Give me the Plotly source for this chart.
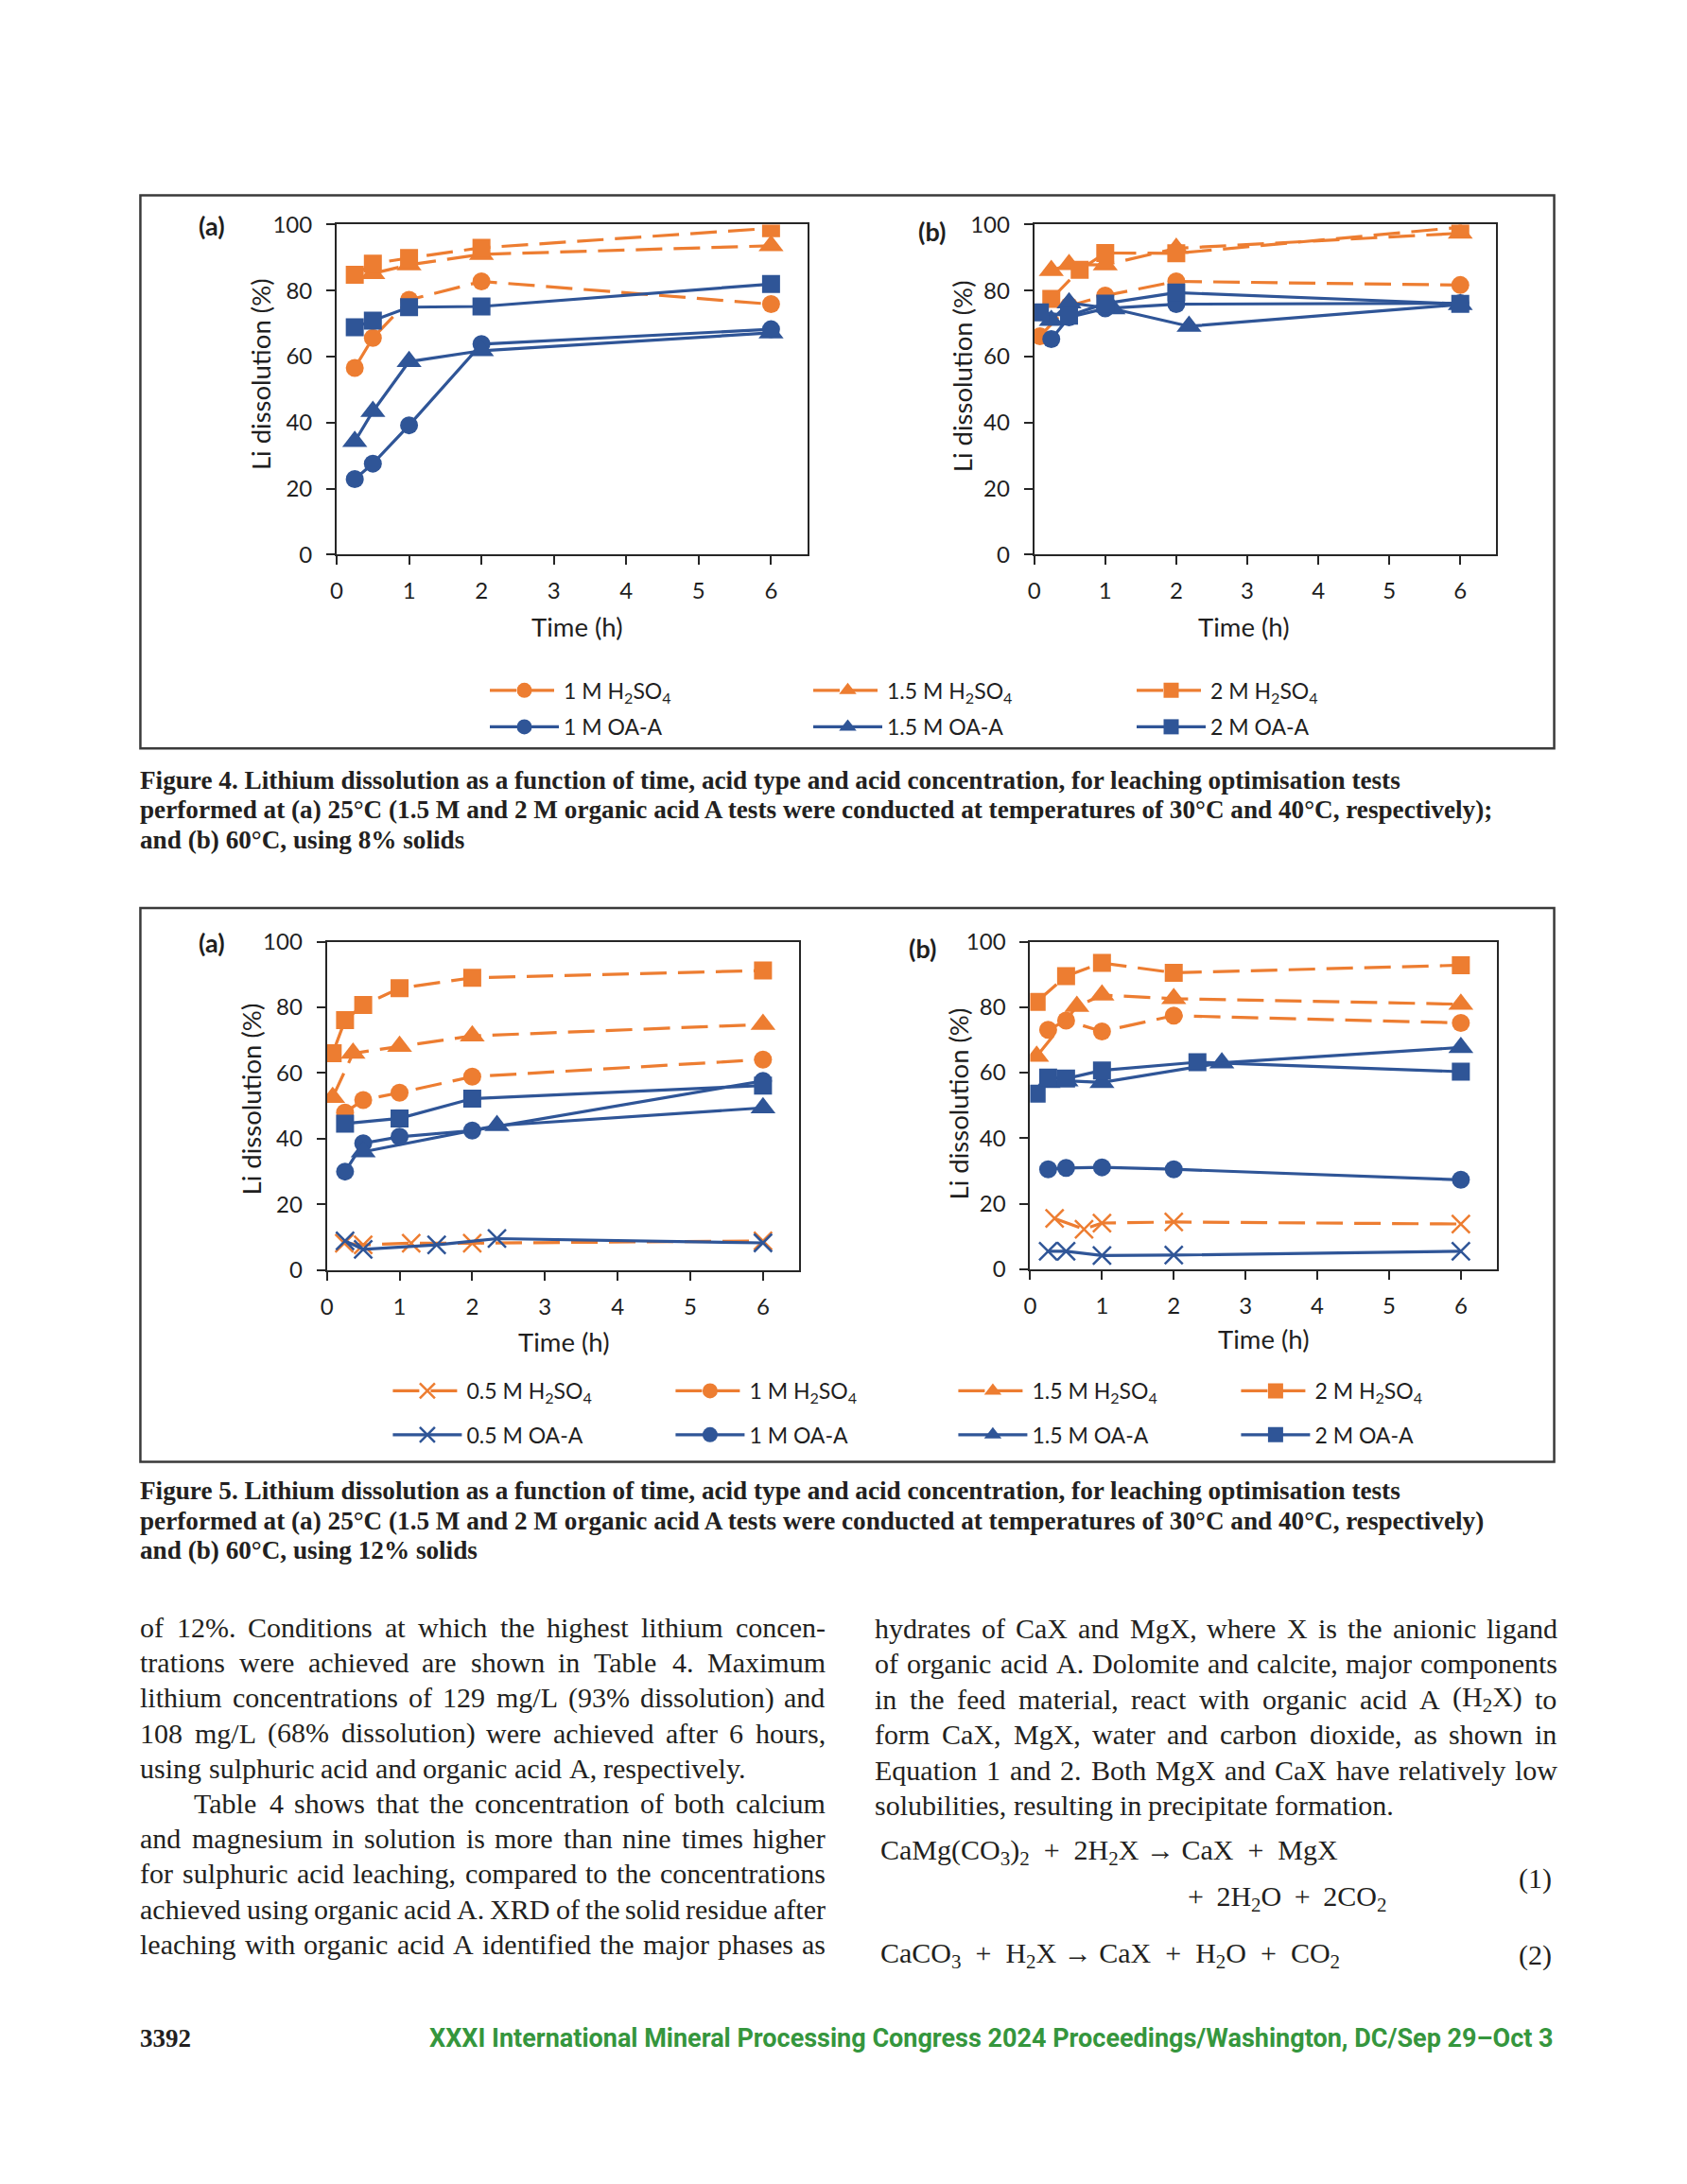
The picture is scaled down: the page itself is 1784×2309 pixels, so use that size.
import re
import plotly.graph_objects as go

W, H = 1784, 2309

# ---------------- data ----------------
# Figure 4 (a): 25 C, 8 % solids
f4a_h1_t = [0.25, 0.5, 1, 2, 6]
f4a_h1_y = [56.6, 65.7, 77.2, 82.8, 75.9]
f4a_h15_t = [0.5, 1, 2, 6]
f4a_h15_y = [85.2, 87.8, 91.0, 93.6]
f4a_h2_t = [0.25, 0.5, 1, 2, 6]
f4a_h2_y = [84.8, 88.2, 89.9, 93.0, 98.9]
f4a_o1_t = [0.25, 0.5, 1, 2, 6]
f4a_o1_y = [22.9, 27.6, 39.2, 63.8, 68.3]
f4a_o15_t = [0.25, 0.5, 1, 2, 6]
f4a_o15_y = [34.3, 43.4, 58.5, 61.8, 67.2]
f4a_o2_t = [0.25, 0.5, 1, 2, 6]
f4a_o2_y = [68.9, 70.9, 75.0, 75.2, 82.0]

# Figure 4 (b): 60 C, 8 % solids
f4b_h1_t = [0.08, 0.49, 1, 2, 6]
f4b_h1_y = [66.2, 75.4, 78.5, 82.8, 81.7]
f4b_h15_t = [0.24, 0.49, 1, 2, 6]
f4b_h15_y = [86.1, 87.9, 87.8, 92.8, 97.4]
f4b_h2_t = [0.24, 0.64, 1, 2, 6]
f4b_h2_y = [77.5, 86.3, 91.4, 91.3, 99.2]
f4b_o1_t = [0.24, 0.49, 1, 2, 6]
f4b_o1_y = [65.3, 71.9, 74.6, 75.9, 76.2]
f4b_o15_t = [0.24, 0.49, 1.11, 2.18, 6]
f4b_o15_y = [71.0, 76.3, 74.5, 69.2, 75.8]
f4b_o2_t = [0.08, 0.49, 1, 2, 6]
f4b_o2_y = [73.4, 72.4, 76.1, 79.4, 76.0]

# Figure 5 (a): 25 C, 12 % solids
f5a_h05_t = [0.24, 0.5, 1.16, 2, 6]
f5a_h05_y = [8.2, 7.7, 8.2, 8.2, 8.9]
f5a_h1_t = [0.25, 0.5, 1, 2, 6]
f5a_h1_y = [48.0, 51.8, 54.0, 58.9, 64.1]
f5a_h15_t = [0.08, 0.36, 1, 2, 6]
f5a_h15_y = [52.6, 66.0, 68.1, 71.3, 74.8]
f5a_h2_t = [0.08, 0.25, 0.5, 1, 2, 6]
f5a_h2_y = [66.0, 76.1, 80.7, 85.8, 89.0, 91.2]
f5a_o05_t = [0.25, 0.5, 1.51, 2.34, 6]
f5a_o05_y = [8.9, 6.3, 7.7, 9.6, 8.3]
f5a_o1_t = [0.25, 0.5, 1, 2, 6]
f5a_o1_y = [30.0, 38.6, 40.6, 42.5, 57.6]
f5a_o15_t = [0.5, 2.34, 6]
f5a_o15_y = [36.0, 44.0, 49.4]
f5a_o2_t = [0.25, 1, 2, 6]
f5a_o2_y = [44.6, 46.2, 52.2, 56.2]

# Figure 5 (b): 60 C, 12 % solids
f5b_h05_t = [0.34, 0.75, 1, 2, 6]
f5b_h05_y = [15.5, 12.2, 14.1, 14.4, 13.8]
f5b_h1_t = [0.25, 0.5, 1, 2, 6]
f5b_h1_y = [73.1, 75.9, 72.6, 77.4, 75.2]
f5b_h15_t = [0.09, 0.65, 1, 2, 6]
f5b_h15_y = [65.0, 80.2, 83.7, 82.6, 80.9]
f5b_h2_t = [0.09, 0.5, 1, 2, 6]
f5b_h2_y = [81.6, 89.5, 93.5, 90.5, 92.8]
f5b_o05_t = [0.25, 0.5, 1, 2, 6]
f5b_o05_y = [5.5, 5.5, 4.2, 4.3, 5.5]
f5b_o1_t = [0.25, 0.5, 1, 2, 6]
f5b_o1_y = [30.5, 30.9, 31.1, 30.5, 27.3]
f5b_o15_t = [0.25, 0.5, 1, 2.67, 6]
f5b_o15_y = [57.0, 57.5, 57.0, 63.0, 67.7]
f5b_o2_t = [0.09, 0.25, 0.5, 1, 2.33, 6]
f5b_o2_y = [53.6, 58.5, 58.2, 60.7, 63.2, 60.3]

x_ticks = [0, 1, 2, 3, 4, 5, 6]
y_ticks = [0, 20, 40, 60, 80, 100]

caption4 = [
    "Figure 4. Lithium dissolution as a function of time, acid type and acid concentration, for leaching optimisation tests",
    "performed at (a) 25°C (1.5 M and 2 M organic acid A tests were conducted at temperatures of 30°C and 40°C, respectively);",
    "and (b) 60°C, using 8% solids",
]
caption5 = [
    "Figure 5. Lithium dissolution as a function of time, acid type and acid concentration, for leaching optimisation tests",
    "performed at (a) 25°C (1.5 M and 2 M organic acid A tests were conducted at temperatures of 30°C and 40°C, respectively)",
    "and (b) 60°C, using 12% solids",
]
body_left = [
    ("of 12%. Conditions at which the highest lithium concen-", True, 0),
    ("trations were achieved are shown in Table 4. Maximum", True, 0),
    ("lithium concentrations of 129 mg/L (93% dissolution) and", True, 0),
    ("108 mg/L (68% dissolution) were achieved after 6 hours,", True, 0),
    ("using sulphuric acid and organic acid A, respectively.", False, 0),
    ("Table 4 shows that the concentration of both calcium", True, 57),
    ("and magnesium in solution is more than nine times higher", True, 0),
    ("for sulphuric acid leaching, compared to the concentrations", True, 0),
    ("achieved using organic acid A. XRD of the solid residue after", True, 0),
    ("leaching with organic acid A identified the major phases as", True, 0),
]
body_right = [
    ("hydrates of CaX and MgX, where X is the anionic ligand", True, 0),
    ("of organic acid A. Dolomite and calcite, major components", True, 0),
    ("in the feed material, react with organic acid A (H<sub>2</sub>X) to", True, 0),
    ("form CaX, MgX, water and carbon dioxide, as shown in", True, 0),
    ("Equation 1 and 2. Both MgX and CaX have relatively low", True, 0),
    ("solubilities, resulting in precipitate formation.", False, 0),
]
SP = "\u00a0\u00a0"
eq1_a = "CaMg(CO<sub>3</sub>)<sub>2</sub>" + SP + "+" + SP + "2H<sub>2</sub>X\u00a0→\u00a0CaX" + SP + "+" + SP + "MgX"
eq1_b = "+\u00a0\u2009" + "2H<sub>2</sub>O" + "\u00a0\u2009+\u00a0\u2009" + "2CO<sub>2</sub>"
eq2 = ("CaCO<sub>3</sub>" + SP + "+" + SP + "H<sub>2</sub>X\u00a0→\u00a0CaX" + SP + "+" + SP +
       "H<sub>2</sub>O" + SP + "+" + SP + "CO<sub>2</sub>")
footer_page = "3392"
footer_text = "XXXI International Mineral Processing Congress 2024 Proceedings/Washington, DC/Sep 29–Oct 3"

# ---------------- style ----------------
ORANGE = "#ED7D31"
BLUE = "#2F5597"
AX = "#262626"
TXT = "#1f1f1f"
BODY = "#231f20"
SANS = "Lato, 'Open Sans', sans-serif"
SERIF = "'Liberation Serif', 'Times New Roman', serif"
GREEN = "#35963d"

SYM = {"0.5": "x-thin", "1": "circle", "1.5": "triangle-up", "2": "square"}
MSIZE = {"0.5": 19, "1": 19, "1.5": 23, "2": 19}


def px(x):
    return x / W


def py(y):
    return 1 - y / H


fig = go.Figure()

# panels: (axis id, x-domain px, y-domain px)
panels = {
    "4a": ("", (350.4, 850.0), (224.3, 577.7)),
    "4b": ("2", (1091.0, 1581.0), (224.3, 577.7)),
    "5a": ("3", (340.0, 841.6), (992.0, 1343.7)),
    "5b": ("4", (1086.7, 1582.0), (992.0, 1342.7)),
}


def add_series(panel, t, y, conc, acid, legend=None):
    aid = panels[panel][0]
    color = ORANGE if acid == "H" else BLUE
    if acid == "H":
        name = conc + " M H<sub>2</sub>SO<sub>4</sub>"
    else:
        name = conc + " M OA-A"
    marker = dict(symbol=SYM[conc], size=MSIZE[conc], color=color,
                  line=dict(width=2.5 if conc == "0.5" else 0, color=color))
    line = dict(color=color, width=3.2, dash="28px,12px" if acid == "H" else "solid")
    fig.add_trace(go.Scatter(
        x=t, y=y, mode="lines+markers", name=name, marker=marker, line=line,
        xaxis="x" + aid, yaxis="y" + aid,
        showlegend=legend is not None, legend=legend if legend else "legend",
        hoverinfo="skip"))


# Figure 4
add_series("4a", f4a_h1_t, f4a_h1_y, "1", "H", "legend")
add_series("4a", f4a_h15_t, f4a_h15_y, "1.5", "H", "legend")
add_series("4a", f4a_h2_t, f4a_h2_y, "2", "H", "legend")
add_series("4a", f4a_o1_t, f4a_o1_y, "1", "O", "legend2")
add_series("4a", f4a_o15_t, f4a_o15_y, "1.5", "O", "legend2")
add_series("4a", f4a_o2_t, f4a_o2_y, "2", "O", "legend2")
add_series("4b", f4b_h1_t, f4b_h1_y, "1", "H")
add_series("4b", f4b_h15_t, f4b_h15_y, "1.5", "H")
add_series("4b", f4b_h2_t, f4b_h2_y, "2", "H")
add_series("4b", f4b_o1_t, f4b_o1_y, "1", "O")
add_series("4b", f4b_o15_t, f4b_o15_y, "1.5", "O")
add_series("4b", f4b_o2_t, f4b_o2_y, "2", "O")
# Figure 5
add_series("5a", f5a_h05_t, f5a_h05_y, "0.5", "H", "legend3")
add_series("5a", f5a_h1_t, f5a_h1_y, "1", "H", "legend3")
add_series("5a", f5a_h15_t, f5a_h15_y, "1.5", "H", "legend3")
add_series("5a", f5a_h2_t, f5a_h2_y, "2", "H", "legend3")
add_series("5a", f5a_o05_t, f5a_o05_y, "0.5", "O", "legend4")
add_series("5a", f5a_o1_t, f5a_o1_y, "1", "O", "legend4")
add_series("5a", f5a_o15_t, f5a_o15_y, "1.5", "O", "legend4")
add_series("5a", f5a_o2_t, f5a_o2_y, "2", "O", "legend4")
add_series("5b", f5b_h05_t, f5b_h05_y, "0.5", "H")
add_series("5b", f5b_h1_t, f5b_h1_y, "1", "H")
add_series("5b", f5b_h15_t, f5b_h15_y, "1.5", "H")
add_series("5b", f5b_h2_t, f5b_h2_y, "2", "H")
add_series("5b", f5b_o05_t, f5b_o05_y, "0.5", "O")
add_series("5b", f5b_o1_t, f5b_o1_y, "1", "O")
add_series("5b", f5b_o15_t, f5b_o15_y, "1.5", "O")
add_series("5b", f5b_o2_t, f5b_o2_y, "2", "O")

layout = dict(
    width=W, height=H, margin=dict(l=0, r=0, t=0, b=0),
    paper_bgcolor="white", plot_bgcolor="white", showlegend=True,
)
for key, (aid, (x0, x1), (y0, y1)) in panels.items():
    ax_common = dict(showline=True, linecolor=AX, linewidth=2, mirror=True,
                     ticks="outside", ticklen=9, tickwidth=2, tickcolor=AX,
                     showgrid=False, zeroline=False, fixedrange=True,
                     tickfont=dict(family=SANS, size=24, color=TXT))
    layout["xaxis" + aid] = dict(ax_common, domain=[px(x0), px(x1)], range=[0, 6.5],
                                 tickvals=x_ticks, anchor="y" + aid, ticklabelstandoff=7)
    layout["yaxis" + aid] = dict(ax_common, domain=[py(y1), py(y0)], range=[0, 100],
                                 tickvals=y_ticks, anchor="x" + aid, ticklabelstandoff=10)


def leg(x, y, ew):
    return dict(orientation="h", x=px(x), y=py(y), xanchor="left", yanchor="middle",
                entrywidth=ew, entrywidthmode="pixels", itemwidth=73,
                font=dict(family=SANS, size=23, color=TXT), bgcolor="rgba(0,0,0,0)",
                borderwidth=0, traceorder="normal", itemclick=False, itemdoubleclick=False)


layout["legend"] = leg(508, 723, 254)
layout["legend2"] = leg(508, 762, 254)
layout["legend3"] = leg(405, 1473, 211)
layout["legend4"] = leg(405, 1520, 211)

ann = []
shapes = []


def text(x, y, s, size, family, color=TXT, xanchor="center", yanchor="middle",
         angle=0, bold=False):
    if bold:
        s = "<b>" + s + "</b>"
    ann.append(dict(x=px(x), y=py(y), xref="paper", yref="paper", text=s,
                    showarrow=False, xanchor=xanchor, yanchor=yanchor, textangle=angle,
                    font=dict(size=size, family=family, color=color)))


# outer frames
for (x0, y0, x1, y1) in [(142, 193, 1643, 785), (142, 956, 1643, 1549)]:
    shapes.append(dict(type="rect", xref="paper", yref="paper", x0=px(x0), x1=px(x1),
                       y0=py(y0), y1=py(y1), line=dict(color="#3a3a3a", width=2.5)))

# panel labels and axis titles
text(218, 225, "(a)", 27, SANS, bold=True)
text(982, 231, "(b)", 27, SANS, bold=True)
text(218, 993, "(a)", 27, SANS, bold=True)
text(972, 999, "(b)", 27, SANS, bold=True)
text(269, 384, "Li dissolution (%)", 27.5, SANS, angle=-90)
text(1014, 387, "Li dissolution (%)", 27.5, SANS, angle=-90)
text(259, 1160, "Li dissolution (%)", 27.5, SANS, angle=-90)
text(1010, 1166, "Li dissolution (%)", 27.5, SANS, angle=-90)
text(605, 655, "Time (h)", 27.5, SANS)
text(1313, 655, "Time (h)", 27.5, SANS)
text(591, 1420, "Time (h)", 27.5, SANS)
text(1334, 1417, "Time (h)", 27.5, SANS)

# captions
for i, line in enumerate(caption4):
    text(140, 828.3 + 31.7 * i - 9, line, 27.2, SERIF, BODY, xanchor="left", bold=True)
for i, line in enumerate(caption5):
    text(140, 1589 + 32 * i - 9, line, 27.2, SERIF, BODY, xanchor="left", bold=True)

# body text, justified word by word (Times metrics)
TNR = {' ': 250, '!': 333, '(': 333, ')': 333, ',': 250, '-': 333, '.': 250, '/': 278,
       ':': 278, ';': 278, '%': 833, '°': 400, '→': 500,
       'A': 722, 'B': 667, 'C': 667, 'D': 722, 'E': 611, 'F': 556, 'G': 722, 'H': 722,
       'I': 333, 'J': 389, 'K': 722, 'L': 611, 'M': 889, 'N': 722, 'O': 722, 'P': 556,
       'Q': 722, 'R': 667, 'S': 556, 'T': 611, 'U': 722, 'V': 722, 'W': 944, 'X': 722,
       'Y': 722, 'Z': 611,
       'a': 444, 'b': 500, 'c': 444, 'd': 500, 'e': 444, 'f': 333, 'g': 500, 'h': 500,
       'i': 278, 'j': 278, 'k': 500, 'l': 278, 'm': 778, 'n': 500, 'o': 500, 'p': 500,
       'q': 500, 'r': 333, 's': 389, 't': 278, 'u': 500, 'v': 500, 'w': 722, 'x': 500,
       'y': 500, 'z': 444}


def wwidth(word, size):
    w = 0.0
    for part in re.split(r"(<sub>.*?</sub>)", word):
        if part.startswith("<sub>"):
            w += 0.7 * sum(TNR.get(c, 500) for c in part[5:-6])
        else:
            w += sum(TNR.get(c, 500) for c in part)
    return w / 1000.0 * size


BSIZE = 30


def paragraph(lines, x0, x1, base0, step):
    for i, (s, just, indent) in enumerate(lines):
        words = s.split(" ")
        start = x0 + indent
        nat = sum(wwidth(w, BSIZE) for w in words)
        gap = (x1 - start - nat) / (len(words) - 1) if just else 0.25 * BSIZE
        x = start
        yb = base0 + step * i
        for w in words:
            text(x, yb - 10, w, BSIZE, SERIF, BODY, xanchor="left")
            x += wwidth(w, BSIZE) + gap


paragraph(body_left, 140, 867, 1736, 37.7)
paragraph(body_right, 920, 1644, 1736.7, 38.0)

# equations
text(926, 1976.7 - 10, eq1_a, BSIZE, SERIF, BODY, xanchor="left")
text(1252, 2026.7 - 10, eq1_b, BSIZE, SERIF, BODY, xanchor="left")
text(1642, 2005 - 10, "(1)", BSIZE, SERIF, BODY, xanchor="right")
text(926, 2086.7 - 10, eq2, BSIZE, SERIF, BODY, xanchor="left")
text(1642, 2086.7 - 10, "(2)", BSIZE, SERIF, BODY, xanchor="right")

# footer
text(140, 2175 - 9, footer_page, 27, SERIF, BODY, xanchor="left", bold=True)
text(1644, 2175 - 9, footer_text, 27,
     "'Liberation Sans Narrow', 'Roboto', sans-serif", GREEN, xanchor="right", bold=True)

layout["annotations"] = ann
layout["shapes"] = shapes
fig.update_layout(**layout)

PIN = ("var gd=document.getElementById('{plot_id}');"
       "gd.style.position='fixed';gd.style.left='0px';gd.style.top='0px';"
       "document.documentElement.style.margin='0px';document.body.style.margin='0px';"
       "document.documentElement.style.overflow='hidden';document.body.style.overflow='hidden';")
fig.write_html("out.html", config={"displayModeBar": False}, post_script=PIN)
